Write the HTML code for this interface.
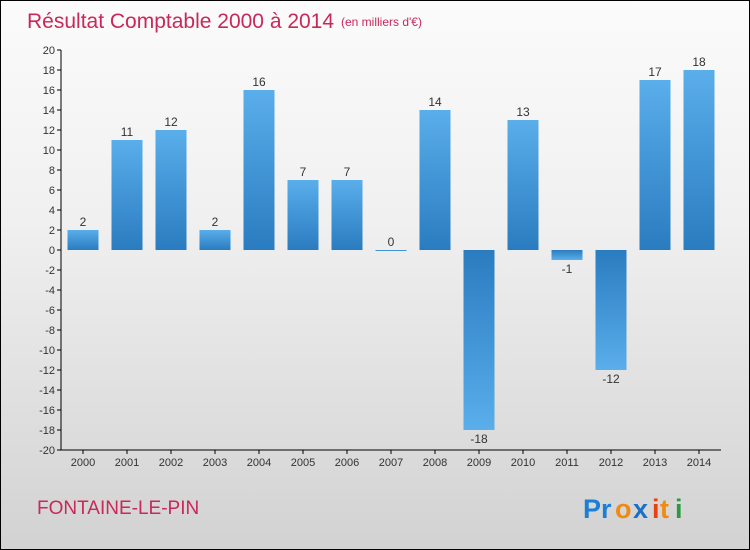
<!DOCTYPE html>
<html><head><meta charset="utf-8"><style>
body{margin:0;}
#c{width:748px;height:548px;border:1px solid #000;background:linear-gradient(#fbfbfb,#f0f0f0 40%,#d2d2d2);position:relative;font-family:"Liberation Sans",sans-serif;overflow:hidden}
</style></head><body>
<div id="c">
<svg id="s" width="748" height="548" xmlns="http://www.w3.org/2000/svg">
<defs>
<linearGradient id="gp" x1="0" y1="0" x2="0" y2="1"><stop offset="0" stop-color="#5aaeea"/><stop offset="1" stop-color="#2a7cc0"/></linearGradient>
<linearGradient id="gn" x1="0" y1="0" x2="0" y2="1"><stop offset="0" stop-color="#2a7cc0"/><stop offset="1" stop-color="#5aaeea"/></linearGradient>
</defs>
<text x="26" y="27" font-size="21" fill="#c8285a">Résultat Comptable 2000 à 2014</text>
<text x="340" y="25" font-size="12" fill="#c8285a">(en milliers d'€)</text>
<g id="ax"></g>
<g id="bars"></g>
<text x="36" y="513" font-size="19" fill="#c8285a">FONTAINE-LE-PIN</text>
<g font-size="27" font-weight="bold" font-family="'Liberation Sans',sans-serif">
<text x="582" y="517" fill="#1a7fd6">Pr</text><text x="614" y="517" fill="#f08a10">o</text><text x="632" y="517" fill="#1a6fc8">x</text><text x="651" y="517" fill="#e84010">i</text><text x="659" y="517" fill="#f08a10">t</text><text x="674" y="517" fill="#2a9a40">i</text>
</g>
</svg>
</div>
<script>
const years=["2000","2001","2002","2003","2004","2005","2006","2007","2008","2009","2010","2011","2012","2013","2014"];
const values=[2,11,12,2,16,7,7,0,14,-18,13,-1,-12,17,18];
const yTicks=[20,18,16,14,12,10,8,6,4,2,0,-2,-4,-6,-8,-10,-12,-14,-16,-18,-20];
const NS="http://www.w3.org/2000/svg";
const x0=60,bw=44,y0=249,k=10;
const y=v=>y0-v*k;
const xc=i=>x0+bw*(i+0.5);
function mk(t,a,p){const e=document.createElementNS(NS,t);for(const n in a)e.setAttribute(n,a[n]);p.appendChild(e);return e;}
const ax=document.getElementById('ax'),bars=document.getElementById('bars');
const yl=mk('line',{x1:x0,y1:y(20),x2:x0,y2:y(-20),stroke:'#000'},ax);


const xl=mk('line',{x1:x0,y1:y(-20),x2:x0+bw*years.length,y2:y(-20),stroke:'#000'},ax);


yTicks.forEach(v=>{
  mk('line',{x1:x0-4,y1:y(v),x2:x0,y2:y(v),stroke:'#000'},ax);
  const t=mk('text',{x:x0-6,y:y(v)+4,'font-size':11,fill:'#333','text-anchor':'end'},ax);
  t.textContent=v;
  
  
});
years.forEach((yr,i)=>{
  mk('line',{x1:xc(i),y1:y(-20),x2:xc(i),y2:y(-20)+4,stroke:'#000'},ax);
  const t=mk('text',{x:xc(i),y:y(-20)+16,'font-size':11,fill:'#333','text-anchor':'middle'},ax);
  t.textContent=yr;
  
  
  const v=values[i],w=31;
  const top=Math.min(y(v),y(0)),h=Math.max(Math.abs(y(v)-y(0)),1);
  const r=mk('rect',{x:xc(i)-w/2,y:top,width:w,height:h,fill:v>=0?'url(#gp)':'url(#gn)'},bars);
  
  
  const l=mk('text',{x:xc(i),y:v>=0?y(v)-4:y(v)+13,'font-size':12,fill:'#333','text-anchor':'middle'},bars);
  l.textContent=v;
  
  
});
</script>
</body></html>
